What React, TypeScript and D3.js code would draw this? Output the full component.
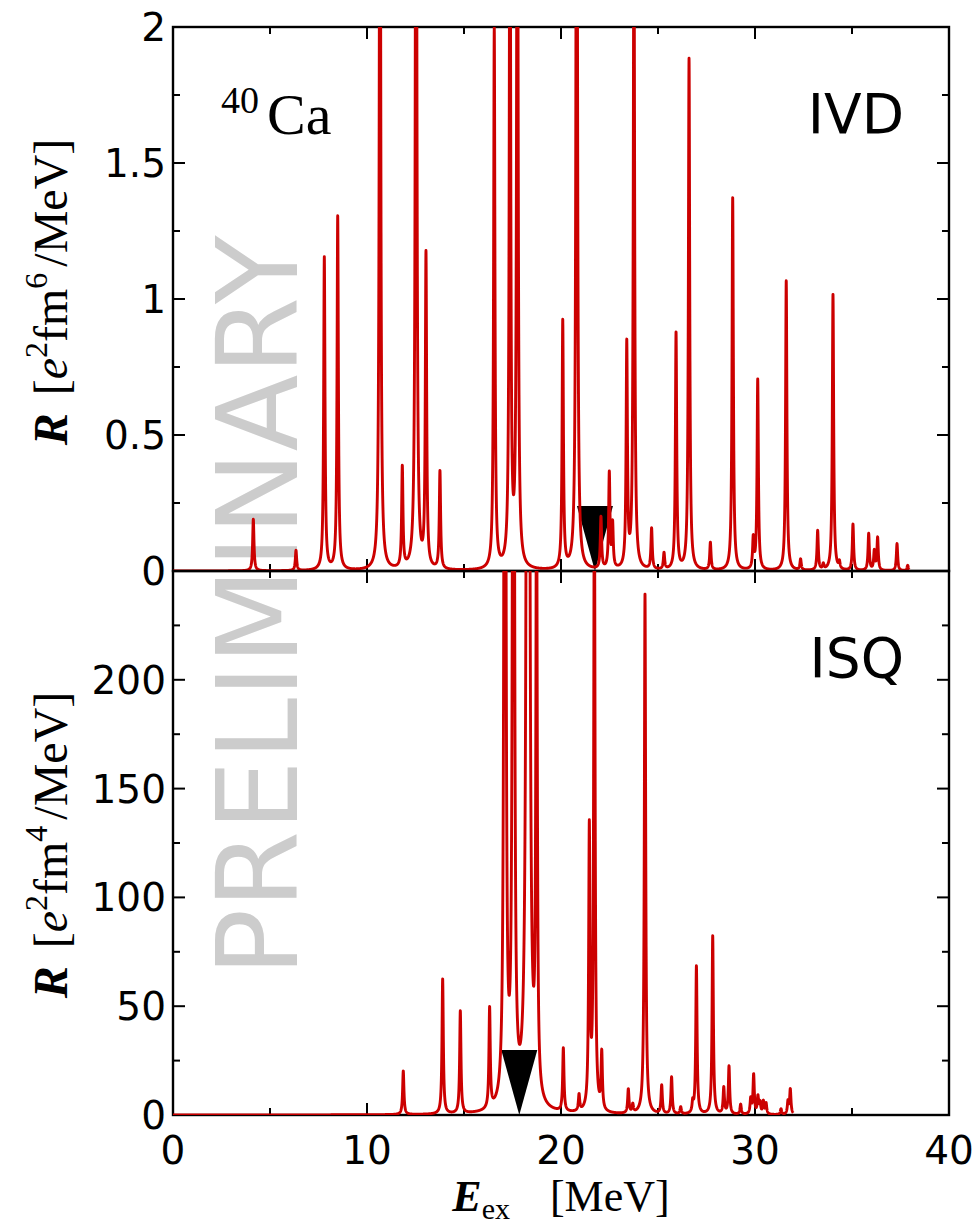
import React from 'react';
import * as d3 from 'd3';

// IVD strength: peak energies [MeV] and peak heights [e^2 fm^6 / MeV]
const ivdEnergy = [4.14, 6.34, 7.80, 8.49, 10.67, 11.82, 12.53, 13.04, 13.76, 16.56, 17.37, 17.75, 20.09, 20.81, 22.06, 22.49, 22.66, 23.39, 23.76, 24.67, 25.31, 25.93, 26.60, 27.70, 28.85, 29.91, 30.14, 31.61, 32.35, 33.23, 33.52, 34.02, 34.35, 35.05, 35.86, 36.15, 36.32, 37.32, 37.87];
const ivdHeight = [0.19, 0.074, 1.15, 1.30, 3.5, 0.37, 4.0, 1.15, 0.36, 1.985, 3.0, 3.5, 0.91, 4.0, 0.19, 0.35, 0.16, 0.82, 2.5, 0.15, 0.06, 0.87, 1.88, 0.10, 1.37, 0.11, 0.70, 1.065, 0.04, 0.145, 0.02, 1.015, 0.025, 0.17, 0.135, 0.07, 0.12, 0.10, 0.02];

// ISQ strength: peak energies [MeV] and peak heights [e^2 fm^4 / MeV]
const isqEnergy = [11.87, 13.90, 14.81, 16.32, 17.11, 17.55, 18.30, 18.74, 20.12, 20.93, 21.46, 21.72, 22.10, 23.47, 23.70, 24.33, 25.19, 25.70, 26.17, 26.79, 26.98, 27.82, 28.39, 28.66, 29.26, 29.78, 29.93, 30.15, 30.26, 30.43, 30.57, 31.34, 31.70, 31.82];
const isqHeight = [20, 62, 47, 46, 800, 800, 2000, 300, 29, 7.5, 128, 300, 26, 11, 3.8, 239, 13, 17, 3.2, 4.7, 68, 82, 12, 22, 4.6, 6.9, 18, 7.8, 5, 5.8, 5, 2.6, 5.8, 11.5];

// centroid energies (triangles)
const ivdCentroid = 21.75;
const isqCentroid = 17.85;

// last energy of each computed curve
const ivdEnd = 37.95;
const isqEnd = 31.97;

const xMajor = [0, 10, 20, 30, 40];
const xMinor = [5, 15, 25, 35];
const ivdMajor = [0, 0.5, 1, 1.5, 2];
const ivdMinor = [0.25, 0.75, 1.25, 1.75];
const ivdLabels = ['0', '0.5', '1', '1.5', '2'];
const isqMajor = [0, 50, 100, 150, 200, 250];
const isqMinor = [25, 75, 125, 175, 225];
const isqLabels = ['0', '50', '100', '150', '200'];

// Lorentzian half width used for smearing [MeV]
const GAMMA = 0.04;

const L = 173, R = 949, T1 = 27, MID = 571, B2 = 1115;
const SANS = 'DejaVu Sans';
const SERIF = 'Liberation Serif';
const RED = '#cc0000';

const x = d3.scaleLinear().domain([0, 40]).range([L, R]);

function spectrum(energies: number[], heights: number[], eMax: number) {
  const g2 = GAMMA * GAMMA;
  const grid = d3.range(0, eMax, 0.004).concat(energies).sort(d3.ascending);
  return grid.map(e => [e, d3.sum(energies, (c, i) => heights[i] * g2 / ((e - c) ** 2 + g2))] as [number, number]);
}

const Panel = ({ y, top, bottom, energies, heights, eMax, majors, minors, labels, centroid, id }: any) => {
  const line = d3.line<[number, number]>().x(d => x(d[0])).y(d => y(d[1]));
  const data = spectrum(energies, heights, eMax);
  const ax = x(centroid);
  const tri = `M${ax - 18},${bottom - 65} L${ax + 18},${bottom - 65} L${ax},${bottom} Z`;
  return (
    <g>
      <defs>
        <clipPath id={id}>
          <rect x={L} y={top} width={R - L} height={bottom - top} />
        </clipPath>
      </defs>
      <rect x={L} y={top} width={R - L} height={bottom - top} fill="none" stroke="#000" strokeWidth={2.4} />
      <g stroke="#000" strokeWidth={2}>
        {xMajor.map(v => (
          <g key={'xM' + v}>
            <line x1={x(v)} x2={x(v)} y1={top} y2={top + 12} />
            <line x1={x(v)} x2={x(v)} y1={bottom} y2={bottom - 12} />
          </g>
        ))}
        {xMinor.map(v => (
          <g key={'xm' + v}>
            <line x1={x(v)} x2={x(v)} y1={top} y2={top + 7} />
            <line x1={x(v)} x2={x(v)} y1={bottom} y2={bottom - 7} />
          </g>
        ))}
        {majors.map((v: number) => (
          <g key={'yM' + v}>
            <line x1={L} x2={L + 12} y1={y(v)} y2={y(v)} />
            <line x1={R} x2={R - 12} y1={y(v)} y2={y(v)} />
          </g>
        ))}
        {minors.map((v: number) => (
          <g key={'ym' + v}>
            <line x1={L} x2={L + 7} y1={y(v)} y2={y(v)} />
            <line x1={R} x2={R - 7} y1={y(v)} y2={y(v)} />
          </g>
        ))}
      </g>
      <g fontFamily={SANS} fontSize={39} textAnchor="end" fill="#000">
        {labels.map((s: string) => (
          <text key={s} x={166} y={y(+s) + 14}>{s}</text>
        ))}
      </g>
      <g clipPath={`url(#${id})`}>
        <path d={tri} fill="#000" />
        <path d={line(data) || ''} fill="none" stroke={RED} strokeWidth={2.9} strokeLinejoin="round" />
      </g>
    </g>
  );
};

export default function App() {
  const yTop = d3.scaleLinear().domain([0, 2]).range([MID, T1]);
  const yBot = d3.scaleLinear().domain([0, 250]).range([B2, MID]);
  return (
    <svg width={980} height={1224} style={{ position: 'absolute', left: 0, top: 0, background: '#fff' }}>
      {/* watermark */}
      <text transform="translate(297,606) rotate(-90)" textAnchor="middle" fontFamily={SANS} fontSize={112} fill="#cccccc">PRELIMINARY</text>

      <Panel y={yTop} top={T1} bottom={MID} energies={ivdEnergy} heights={ivdHeight} eMax={ivdEnd}
        majors={ivdMajor} minors={ivdMinor} labels={ivdLabels} centroid={ivdCentroid} id="clipTop" />
      <Panel y={yBot} top={MID} bottom={B2} energies={isqEnergy} heights={isqHeight} eMax={isqEnd}
        majors={isqMajor} minors={isqMinor} labels={isqLabels} centroid={isqCentroid} id="clipBot" />

      {/* x tick labels */}
      <g fontFamily={SANS} fontSize={39} textAnchor="middle">
        {xMajor.map(v => <text key={v} x={x(v)} y={1164}>{v}</text>)}
      </g>

      {/* panel labels */}
      <text x={221} y={134} fontFamily={SERIF} fontSize={58}>
        <tspan fontSize={38} dy={-21}>40</tspan>
        <tspan dy={21} dx={8}>Ca</tspan>
      </text>
      <text x={904} y={133} textAnchor="end" fontFamily={SANS} fontSize={55}>IVD</text>
      <text x={904} y={677} textAnchor="end" fontFamily={SANS} fontSize={55}>ISQ</text>

      {/* y axis titles */}
      <text transform="translate(67,292) rotate(-90)" textAnchor="middle" fontFamily={SERIF} fontSize={48}>
        <tspan fontWeight="bold" fontStyle="italic">R</tspan>
        <tspan dx={18}>[</tspan>
        <tspan fontStyle="italic">e</tspan>
        <tspan fontSize={32} dy={-20}>2</tspan>
        <tspan dy={20}>fm</tspan>
        <tspan fontSize={32} dy={-20}>6</tspan>
        <tspan dy={20} dx={6}>/MeV]</tspan>
      </text>
      <text transform="translate(67,845) rotate(-90)" textAnchor="middle" fontFamily={SERIF} fontSize={48}>
        <tspan fontWeight="bold" fontStyle="italic">R</tspan>
        <tspan dx={18}>[</tspan>
        <tspan fontStyle="italic">e</tspan>
        <tspan fontSize={32} dy={-20}>2</tspan>
        <tspan dy={20}>fm</tspan>
        <tspan fontSize={32} dy={-20}>4</tspan>
        <tspan dy={20} dx={6}>/MeV]</tspan>
      </text>

      {/* x axis title */}
      <text x={561} y={1211} textAnchor="middle" fontFamily={SERIF} fontSize={44}>
        <tspan fontWeight="bold" fontStyle="italic">E</tspan>
        <tspan fontSize={30} dy={8}>ex</tspan>
        <tspan dy={-8} dx={40}>[MeV]</tspan>
      </text>
    </svg>
  );
}
